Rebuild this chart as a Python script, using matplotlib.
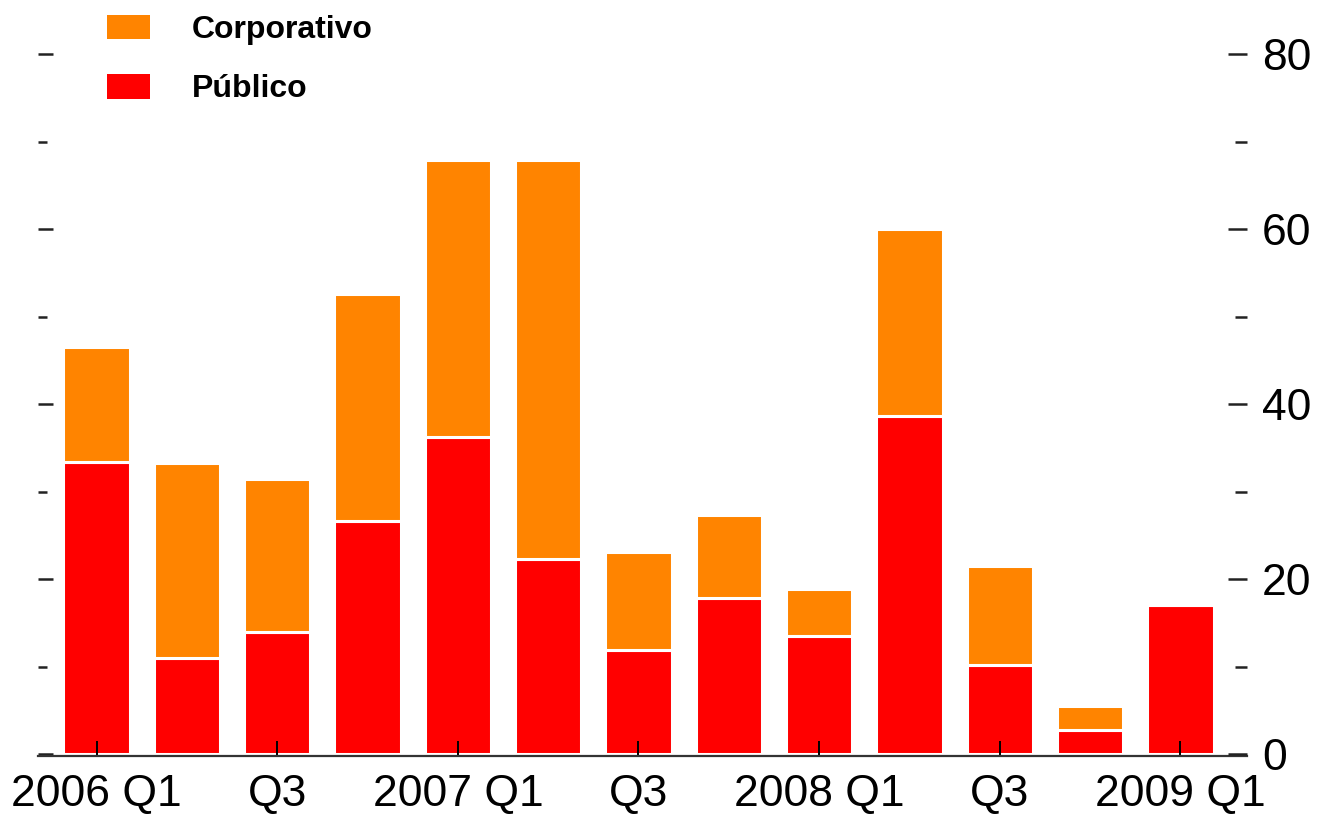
import matplotlib.pyplot as plt
from matplotlib.patches import Patch

quarters = ["2006 Q1", "Q2", "Q3", "Q4", "2007 Q1", "Q2", "Q3", "Q4",
            "2008 Q1", "Q2", "Q3", "Q4", "2009 Q1"]
publico = [33.4, 11.0, 13.9, 26.6, 36.2, 22.3, 11.9, 17.8, 13.5, 38.6, 10.2, 2.7, 17.0]
corporativo = [13.1, 22.3, 17.5, 26.0, 31.7, 45.6, 11.2, 9.5, 5.4, 21.4, 11.3, 2.8, 0.0]
xtick_labels = ["2006 Q1", "Q3", "2007 Q1", "Q3", "2008 Q1", "Q3", "2009 Q1"]
ytick_labels = [0, 20, 40, 60, 80]

ORANGE = "#ff8400"
RED = "#ff0000"
TICK_FONT = ["Liberation Sans Narrow", "Liberation Sans", "DejaVu Sans"]

fig = plt.figure(figsize=(13.17, 8.15), dpi=100)
ax = fig.add_axes([0.0289, 0.0727, 0.9179, 0.8825])

x = list(range(len(quarters)))
bar_kw = dict(width=0.735, edgecolor="white", linewidth=2.2)
ax.bar(x, publico, color=RED, **bar_kw)
ax.bar(x, corporativo, bottom=publico, color=ORANGE, **bar_kw)

ax.set_xlim(-0.648, 12.737)
ax.set_ylim(-0.2, 82)

for side in ("top", "left", "right"):
    ax.spines[side].set_visible(False)
ax.spines["bottom"].set_color("#333333")
ax.spines["bottom"].set_linewidth(1.6)

ax.set_xticks(x[::2])
ax.set_xticklabels(xtick_labels, fontsize=32, family=TICK_FONT)
ax.tick_params(axis="x", direction="in", length=11, width=1.4, color="black", pad=13)

ax.set_yticks(ytick_labels)
ax.set_yticks([10, 30, 50, 70], minor=True)
ax.set_yticklabels([])
ax.tick_params(axis="y", which="major", direction="in", length=11, width=1.8, color="#222222")
ax.tick_params(axis="y", which="minor", direction="in", length=6.5, width=1.8, color="#222222")

ax2 = ax.twinx()
ax2.set_ylim(ax.get_ylim())
for side in ("top", "left", "right", "bottom"):
    ax2.spines[side].set_visible(False)
ax2.set_yticks(ytick_labels)
ax2.set_yticks([10, 30, 50, 70], minor=True)
ax2.set_yticklabels([str(v) for v in ytick_labels], fontsize=32, family=TICK_FONT)
ax2.tick_params(axis="y", which="major", direction="in", length=14, width=1.8,
                color="#222222", pad=11)
ax2.tick_params(axis="y", which="minor", direction="in", length=8.6, width=1.8,
                color="#222222")

handles = [Patch(facecolor=ORANGE, edgecolor="none", label="Corporativo"),
           Patch(facecolor=RED, edgecolor="none", label="Público")]
fig.legend(handles=handles, loc="upper left", bbox_to_anchor=(107 / 1317, 1 - 15 / 815),
           frameon=False, borderpad=0, borderaxespad=0,
           prop={"family": "Liberation Sans", "weight": "bold", "size": 23},
           handlelength=1.35, handleheight=0.8, handletextpad=1.3, labelspacing=0.9)

fig.savefig("out.png", dpi=100, facecolor="white")
